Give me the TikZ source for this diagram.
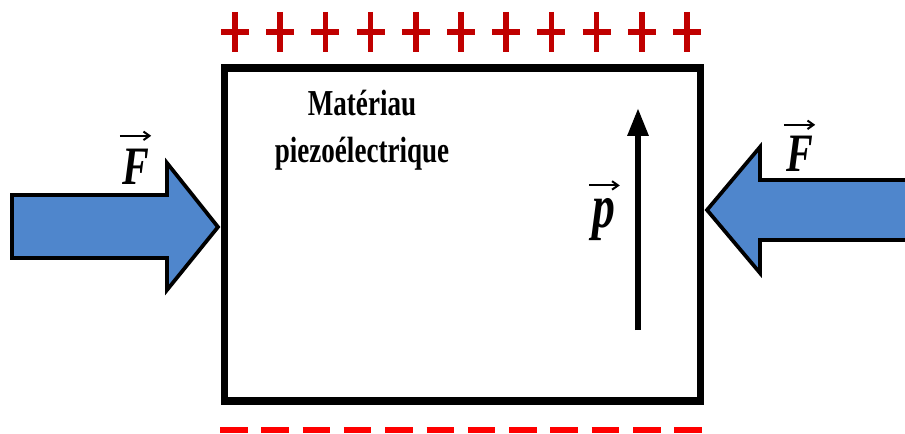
\documentclass[tikz,border=0pt]{standalone}
\usepackage{fontspec}
\setmainfont{Liberation Serif}
\usetikzlibrary{arrows.meta}
\definecolor{forceblue}{RGB}{79,134,204}
\definecolor{plusred}{RGB}{192,0,0}
\definecolor{minusred}{RGB}{255,0,0}

\begin{document}
\begin{tikzpicture}[x=0.2mm, y=-0.2mm,
    material/.style={rectangle, draw=black, line width=1.55mm,
        minimum width=95.2mm, minimum height=66.6mm, inner sep=0pt},
    force/.style={draw=black, line width=0.75mm, fill=forceblue,
        line join=miter, miter limit=10},
    lbl/.style={inner sep=0pt, yscale=1.35, transform shape},
    plussign/.style={plusred, line width=1.1mm},
    minussign/.style={minusred, line width=1.2mm},
    pol/.style={-{Triangle[length=5.6mm, width=4mm]}, line width=1.2mm},
    vecarrow/.style={-{Straight Barb[length=1.2mm, width=1.7mm]}, line width=0.4mm}
]
    \clip (0,0) rectangle (905,434);

    \node[material] (mat) at (462.5,234.5) {};
    \node[lbl, font=\fontsize{15.4}{20}\selectfont\bfseries, align=center]
        (name) at (362,130) {Matériau\\piezoélectrique};

    % charges
    \foreach \i in {0,...,10}
        \draw[plussign] (221+45.2*\i,32) -- ++(28,0) (235+45.2*\i,12) -- ++(0,40);
    \foreach \i in {0,...,11}
        \draw[minussign] (220+41.3*\i,429.5) -- ++(27.5,0);

    % forces
    \draw[force] (12,195) -- (167,195) -- (167,163) -- (218,227)
        -- (167,290) -- (167,258) -- (12,258) -- cycle;
    \draw[force] (915,180) -- (760,180) -- (760,147) -- (707,210)
        -- (760,273) -- (760,240) -- (915,240) -- cycle;
    \node[lbl, font=\fontsize{22.8}{24}\selectfont\bfseries\itshape] (FL) at (136,167) {F};
    \node[lbl, font=\fontsize{22.8}{24}\selectfont\bfseries\itshape] (FR) at (800,154) {F};
    \draw[vecarrow] ([xshift=-0.5mm, yshift=2.6mm]FL.north west)
        -- ([xshift=0.3mm, yshift=2.6mm]FL.north east);
    \draw[vecarrow] ([xshift=-0.5mm, yshift=2.2mm]FR.north west)
        -- ([xshift=0.3mm, yshift=2.2mm]FR.north east);

    % polarisation
    \coordinate (pfoot) at (638,330);
    \coordinate (phead) at (638,108);
    \draw[pol] (pfoot) -- (phead);
    \node[lbl, font=\fontsize{26}{28}\selectfont\bfseries\itshape] (pvec) at (604,220) {p};
    \draw[vecarrow] ([xshift=-0.6mm, yshift=2.6mm]pvec.north west)
        -- ([xshift=0.8mm, yshift=2.6mm]pvec.north east);
\end{tikzpicture}
\end{document}
